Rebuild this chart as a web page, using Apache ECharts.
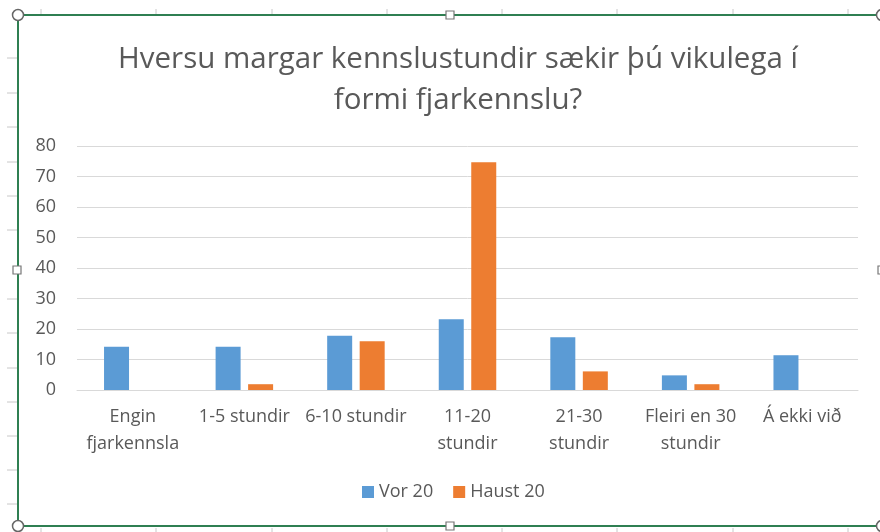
<!DOCTYPE html>
<html>
<head>
<meta charset="utf-8">
<script src="https://cdn.jsdelivr.net/npm/echarts@6/dist/echarts.min.js"></script>
<style>
html,body{margin:0;padding:0;background:#fff;}
#chart{width:880px;height:532px;}
</style>
</head>
<body>
<div id="chart"></div>
<script>
var titleText = 'Hversu margar kennslustundir sækir þú vikulega í\nformi fjarkennslu?';
var categories = ['Engin\nfjarkennsla', '1-5 stundir', '6-10 stundir', '11-20\nstundir', '21-30\nstundir', 'Fleiri en 30\nstundir', 'Á ekki við'];
var seriesNames = ['Vor 20', 'Haust 20'];
var vor20 = [14.2, 14.2, 17.8, 23.2, 17.3, 4.8, 11.4];
var haust20 = [0, 1.9, 16, 74.7, 6.1, 1.9, 0];
var yTicks = [0, 10, 20, 30, 40, 50, 60, 70, 80];

var chart = echarts.init(document.getElementById('chart'), null, {renderer: 'canvas'});

var FONT = 'Open Sans';
var TXT = '#595959';
var GREEN = '#2F7F52';

// decorative spreadsheet / selection frame
var deco = [];
var rowYs = [58, 93, 127, 162, 196, 230, 299, 333, 368, 402, 436, 470, 504];
rowYs.forEach(function (y) {
  deco.push({type: 'line', silent: true, shape: {x1: 7, y1: y, x2: 17, y2: y}, style: {stroke: '#C8C8C8', lineWidth: 1}});
});
var colXs = [41, 156, 272, 387, 502, 617, 733, 848];
colXs.forEach(function (x) {
  deco.push({type: 'line', silent: true, shape: {x1: x, y1: 9, x2: x, y2: 14}, style: {stroke: '#C8C8C8', lineWidth: 1}});
  deco.push({type: 'line', silent: true, shape: {x1: x, y1: 528, x2: x, y2: 532}, style: {stroke: '#C8C8C8', lineWidth: 1}});
});
deco.push({type: 'rect', silent: true, shape: {x: 18, y: 15, width: 863, height: 511}, style: {fill: null, stroke: GREEN, lineWidth: 2}});
[[18, 15], [882, 15], [18, 526], [882, 526]].forEach(function (p) {
  deco.push({type: 'circle', silent: true, shape: {cx: p[0], cy: p[1], r: 5.5}, style: {fill: '#fff', stroke: '#666', lineWidth: 1.5}});
});
[[450, 15], [450, 526], [17, 270], [882, 270]].forEach(function (p) {
  deco.push({type: 'rect', silent: true, shape: {x: p[0] - 4, y: p[1] - 4, width: 8, height: 8}, style: {fill: '#fff', stroke: '#777', lineWidth: 1.2}});
});

var option = {
  backgroundColor: '#fff',
  animation: false,
  title: {
    text: titleText,
    left: 453,
    textAlign: 'center',
    top: 34,
    textStyle: {fontFamily: FONT, fontSize: 29.5, fontWeight: 'normal', color: TXT, lineHeight: 41}
  },
  legend: {
    data: seriesNames,
    bottom: 26,
    left: 357,
    itemWidth: 12,
    itemHeight: 12,
    itemGap: 20,
    icon: 'rect',
    textStyle: {fontFamily: FONT, fontSize: 18, color: TXT}
  },
  grid: {left: 77, right: 22, top: 146, bottom: 142, containLabel: false},
  xAxis: {
    type: 'category',
    data: categories,
    axisLine: {show: true, lineStyle: {color: '#D9D9D9', width: 1}},
    axisTick: {show: false},
    axisLabel: {fontFamily: FONT, fontSize: 18, color: TXT, lineHeight: 27, margin: 13, interval: 0}
  },
  yAxis: {
    type: 'value',
    min: yTicks[0],
    max: yTicks[yTicks.length - 1],
    interval: 10,
    axisLine: {show: false},
    axisTick: {show: false},
    splitLine: {lineStyle: {color: '#D9D9D9', width: 1}},
    axisLabel: {fontFamily: FONT, fontSize: 18, color: TXT, margin: 21}
  },
  series: [
    {name: seriesNames[0], type: 'bar', data: vor20, barWidth: 25, barGap: '30%', itemStyle: {color: '#5B9BD5'}},
    {name: seriesNames[1], type: 'bar', data: haust20, barWidth: 25, barGap: '30%', itemStyle: {color: '#ED7D31'}}
  ],
  graphic: deco
};
chart.setOption(option);
</script>
</body>
</html>
